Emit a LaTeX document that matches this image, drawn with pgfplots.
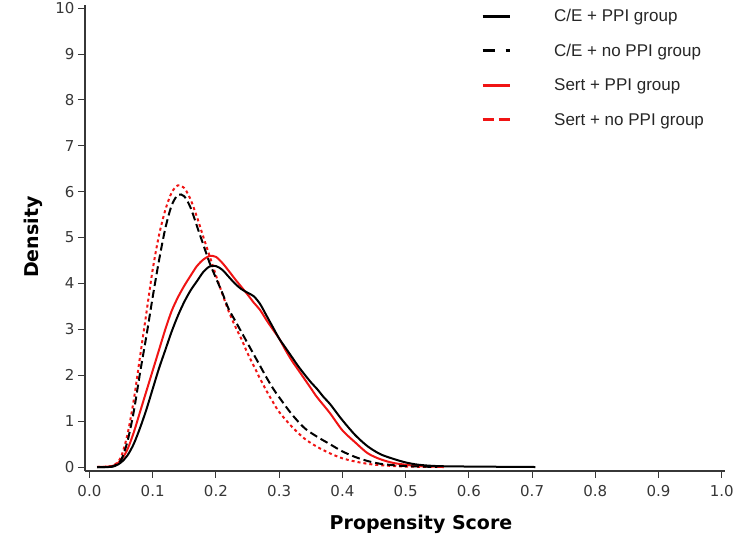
\documentclass[border=0pt]{standalone}
\usepackage{fontspec}
\setmainfont{DejaVu Sans}
\newfontfamily\legfont{Liberation Sans}
\usepackage{pgfplots}
\pgfplotsset{compat=1.18}
\usetikzlibrary{calc}

\definecolor{axgray}{RGB}{55,55,55}
\definecolor{sertred}{RGB}{240,20,20}

\begin{document}
\begin{tikzpicture}
\begin{axis}[
    name=ax,
    scale only axis,
    width=640pt, height=466pt,
    xmin=-0.007, xmax=1.005,
    ymin=-0.087, ymax=10.07,
    axis x line=bottom, axis y line=left,
    axis line style={-, axgray, line width=1.2pt},
    xtick={0,0.1,0.2,0.3,0.4,0.5,0.6,0.7,0.8,0.9,1.0},
    ytick={0,1,2,3,4,5,6,7,8,9,10},
    tick align=outside,
    major tick length=7pt,
    tick style={axgray, line width=1pt},
    /pgf/number format/assume math mode=true,
    xticklabel style={/pgf/number format/fixed, /pgf/number format/fixed zerofill,
        /pgf/number format/precision=1, yshift=-4pt},
    ticklabel style={font=\fontsize{15}{17}\selectfont, text=axgray},
    xlabel={Propensity Score},
    ylabel={Density},
    label style={font=\fontsize{19}{22}\selectfont\bfseries},
    xlabel style={at={(axis description cs:0.525,-0.114)}, anchor=center},
    ylabel style={at={(axis description cs:-0.081,0.502)}, anchor=center},
    legend style={draw=none, fill=none, at={(0.614,1.0)}, anchor=north west,
        font=\legfont\fontsize{17}{20}\selectfont, text=black!85, row sep=17pt,
        /tikz/every odd column/.append style={column sep=41pt}},
    legend cell align=left,
]
% legend entries
\addlegendimage{legend image code/.code={\draw[black, line width=3pt] (0pt,0pt) -- (27pt,0pt);}}
\addlegendentry{C/E + PPI group}
\addlegendimage{legend image code/.code={\draw[black, line width=3pt, dash pattern=on 12pt off 11pt] (0pt,0pt) -- (27pt,0pt);}}
\addlegendentry{C/E + no PPI group}
\addlegendimage{legend image code/.code={\draw[sertred, line width=3pt] (0pt,0pt) -- (27pt,0pt);}}
\addlegendentry{Sert + PPI group}
\addlegendimage{legend image code/.code={\draw[sertred, line width=3pt, dash pattern=on 11pt off 5pt] (0pt,0pt) -- (27pt,0pt);}}
\addlegendentry{Sert + no PPI group}

% Sert + no PPI group
\addplot[forget plot, sertred, line width=2pt, dash pattern=on 3pt off 3pt, smooth] coordinates {
(0.012,0) (0.03,0.01) (0.04,0.05) (0.05,0.22) (0.06,0.7) (0.07,1.45) (0.08,2.4) (0.09,3.35)
(0.1,4.3) (0.11,5.05) (0.12,5.6) (0.13,5.98) (0.14,6.14) (0.15,6.08) (0.16,5.83) (0.17,5.45)
(0.18,5.02) (0.19,4.6) (0.2,4.18) (0.21,3.78) (0.22,3.4) (0.23,3.08) (0.24,2.8) (0.25,2.48)
(0.26,2.2) (0.27,1.92) (0.28,1.66) (0.29,1.42) (0.3,1.2) (0.32,0.88) (0.34,0.62) (0.36,0.44)
(0.38,0.3) (0.4,0.19) (0.42,0.12) (0.44,0.07) (0.46,0.04) (0.5,0.01) (0.56,0)
};
% Sert + PPI group
\addplot[forget plot, sertred, line width=2pt, smooth] coordinates {
(0.012,0) (0.03,0.01) (0.04,0.04) (0.05,0.15) (0.06,0.38) (0.07,0.75) (0.08,1.2) (0.09,1.65)
(0.1,2.1) (0.11,2.55) (0.12,3.0) (0.13,3.4) (0.14,3.7) (0.15,3.95) (0.16,4.17) (0.17,4.38)
(0.18,4.52) (0.19,4.6) (0.2,4.58) (0.21,4.45) (0.22,4.28) (0.23,4.1) (0.24,3.93) (0.25,3.76)
(0.26,3.58) (0.27,3.42) (0.28,3.2) (0.29,3.0) (0.3,2.8) (0.31,2.55) (0.32,2.32) (0.33,2.12)
(0.34,1.92) (0.35,1.72) (0.36,1.52) (0.38,1.18) (0.4,0.8) (0.42,0.54) (0.44,0.3) (0.46,0.17)
(0.48,0.09) (0.5,0.05) (0.52,0.02) (0.56,0)
};
% C/E + no PPI group
\addplot[forget plot, black, line width=2pt, dash pattern=on 8pt off 4pt, smooth] coordinates {
(0.012,0) (0.03,0.0) (0.04,0.03) (0.05,0.15) (0.06,0.55) (0.07,1.2) (0.08,2.05) (0.09,2.85)
(0.1,3.7) (0.11,4.5) (0.12,5.2) (0.13,5.7) (0.14,5.93) (0.15,5.9) (0.16,5.65) (0.17,5.25)
(0.18,4.85) (0.19,4.45) (0.2,4.12) (0.21,3.8) (0.22,3.45) (0.23,3.2) (0.24,2.95) (0.25,2.7)
(0.26,2.45) (0.27,2.2) (0.28,1.95) (0.29,1.72) (0.3,1.52) (0.32,1.15) (0.34,0.85) (0.36,0.66)
(0.38,0.5) (0.4,0.34) (0.42,0.22) (0.44,0.13) (0.46,0.07) (0.48,0.04) (0.5,0.02) (0.55,0)
};
% C/E + PPI group
\addplot[forget plot, black, line width=2pt, smooth] coordinates {
(0.012,0) (0.03,0.0) (0.04,0.02) (0.05,0.1) (0.06,0.25) (0.07,0.5) (0.08,0.85) (0.09,1.25)
(0.1,1.7) (0.11,2.15) (0.12,2.55) (0.13,2.95) (0.14,3.3) (0.15,3.6) (0.16,3.85) (0.17,4.05)
(0.18,4.25) (0.19,4.37) (0.2,4.38) (0.21,4.3) (0.22,4.15) (0.23,4.0) (0.24,3.88) (0.25,3.8)
(0.26,3.72) (0.27,3.55) (0.28,3.3) (0.29,3.05) (0.3,2.8) (0.31,2.6) (0.32,2.4) (0.33,2.2)
(0.34,2.02) (0.35,1.85) (0.36,1.7) (0.37,1.53) (0.38,1.38) (0.39,1.2) (0.4,1.02) (0.42,0.7)
(0.44,0.45) (0.46,0.28) (0.48,0.18) (0.5,0.1) (0.52,0.05) (0.55,0.02) (0.6,0.01) (0.65,0.005)
(0.705,0)
};
\end{axis}
\pgfresetboundingbox
\path[use as bounding box] ($(ax.south west)+(-85pt,-69pt)$) rectangle ($(ax.north east)+(13pt,5pt)$);
\end{tikzpicture}
\end{document}
